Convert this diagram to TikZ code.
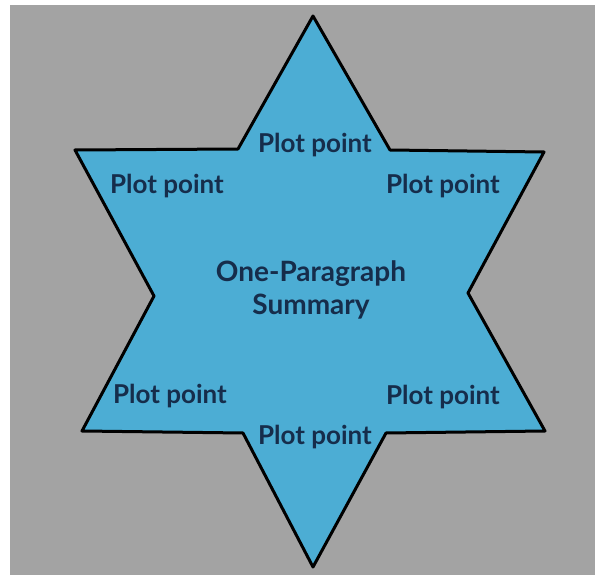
\documentclass[tikz,border=0pt]{standalone}
\usepackage{fontspec}
\setmainfont{Lato}
\definecolor{bgray}{RGB}{163,163,163}
\definecolor{starblue}{RGB}{76,173,212}
\definecolor{navy}{RGB}{22,45,75}
\begin{document}
\begin{tikzpicture}[x=1pt,y=-1pt,
  lbl/.style={text=navy,font=\fontsize{26}{30}\selectfont\bfseries,inner sep=0pt,align=center},
  clbl/.style={text=navy,font=\fontsize{28}{33}\selectfont\bfseries,inner sep=0pt,align=center}]
\useasboundingbox (0,0) rectangle (595,575);
\fill[white] (0,0) rectangle (595,575);
\fill[bgray] (10,5) rectangle (595,575);
% star vertices
\coordinate (T) at (313,16);
\coordinate (TRi) at (390,150);
\coordinate (TRo) at (544,152);
\coordinate (Ri) at (468,293);
\coordinate (BRo) at (545,431);
\coordinate (BRi) at (386,433);
\coordinate (B) at (313,567);
\coordinate (BLi) at (243,433);
\coordinate (BLo) at (82,431);
\coordinate (Li) at (154,296);
\coordinate (TLo) at (75,150);
\coordinate (TLi) at (238,149);
\draw[fill=starblue,line width=3pt,line join=round]
  (T) -- (TRi) -- (TRo) -- (Ri) -- (BRo) -- (BRi) -- (B) -- (BLi) -- (BLo) -- (Li) -- (TLo) -- (TLi) -- cycle;
\node[lbl] (ptop) at (315,145) {Plot point};
\node[lbl] (ptl) at (167,186) {Plot point};
\node[lbl] (ptr) at (443,186) {Plot point};
\node[lbl] (pbl) at (170,396) {Plot point};
\node[lbl] (pbr) at (443,397) {Plot point};
\node[lbl] (pbot) at (315,437) {Plot point};
\node[clbl] (center) at (311,290) {One-Paragraph\\Summary};
\end{tikzpicture}
\end{document}
